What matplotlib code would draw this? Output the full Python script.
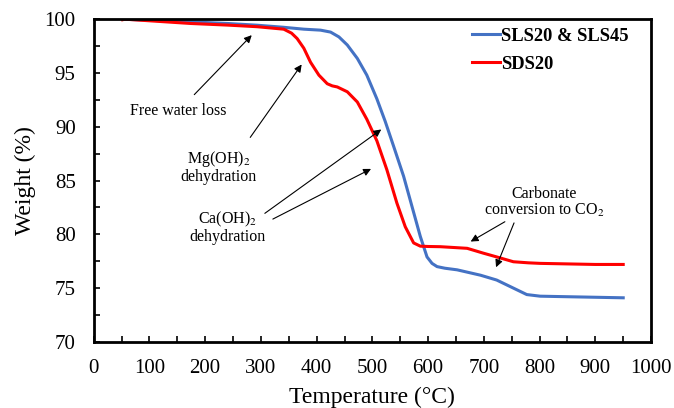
import matplotlib.pyplot as plt
from matplotlib.ticker import MultipleLocator

plt.rcParams['font.family'] = ['Liberation Serif', 'DejaVu Serif']
plt.rcParams['mathtext.fontset'] = 'stix'

# donnees
temp_sls = [52, 100, 174, 240, 293, 340, 377, 407, 425, 440, 455, 473, 490,
            508, 523, 538, 556, 571, 586, 598, 607, 616, 630, 652, 694, 723,
            753, 777, 801, 850, 900, 950]
poids_sls = [100, 99.9, 99.75, 99.6, 99.44, 99.25, 99.07, 98.98, 98.8, 98.35,
             97.6, 96.35, 94.8, 92.6, 90.5, 88.2, 85.4, 82.6, 79.8, 77.9,
             77.3, 77.0, 76.85, 76.7, 76.2, 75.75, 75.0, 74.4, 74.25, 74.2,
             74.15, 74.1]

temp_sds = [52, 56, 100, 174, 240, 293, 341, 355, 365, 377, 389, 404, 419,
            428, 437, 455, 473, 490, 508, 526, 544, 559, 574, 586, 600, 622,
            670, 699, 723, 753, 780, 801, 850, 900, 950]
poids_sds = [99.95, 100, 99.85, 99.6, 99.45, 99.3, 99.07, 98.7, 98.2, 97.3,
             96.0, 94.8, 94.0, 93.8, 93.7, 93.25, 92.3, 90.7, 88.7, 86.0, 82.9,
             80.7, 79.2, 78.9, 78.87, 78.85, 78.7, 78.25, 77.9, 77.45, 77.35,
             77.3, 77.25, 77.2, 77.2]

fig = plt.figure(figsize=(6.74, 4.08), dpi=100)
ax = fig.add_axes([0.139, 0.162, 0.827, 0.791])

ax.plot(temp_sls, poids_sls, color='#4472C4', lw=2.2, label='SLS20 & SLS45',
        solid_joinstyle='round')
ax.plot(temp_sds, poids_sds, color='#FF0000', lw=2.2, label='SDS20',
        solid_joinstyle='round')

ax.set_xlim(0, 1000)
ax.set_ylim(70, 100)
ax.xaxis.set_major_locator(MultipleLocator(100))
ax.xaxis.set_minor_locator(MultipleLocator(50))
ax.yaxis.set_major_locator(MultipleLocator(5))
ax.yaxis.set_minor_locator(MultipleLocator(2.5))
ax.tick_params(which='both', direction='in', length=4, width=1.2,
               labelsize=15, top=False, right=False)
ax.tick_params(axis='x', pad=12)
ax.tick_params(axis='y', pad=13)
for s in ax.spines.values():
    s.set_linewidth(2)

ax.set_xlabel('Temperature (°C)', fontsize=17, labelpad=7)
ax.set_ylabel('Weight (%)', fontsize=17, labelpad=6)

leg = ax.legend(loc='upper right', frameon=False, handlelength=1.5,
                handletextpad=0.1, labelspacing=0.6,
                prop={'weight': 'bold', 'size': 13.3, 'family': 'Liberation Serif'},
                bbox_to_anchor=(0.99, 1.025))

fl = 11.5
arr = dict(arrowstyle='-|>', color='black', lw=0.8, mutation_scale=11)
ax.text(152, 91.5, 'Free water loss', ha='center', va='center', fontsize=fl)
ax.annotate('', xy=(287, 98.7), xytext=(177, 92.8), arrowprops=arr)

ax.text(224, 86.3, 'Mg(OH)$_2$\ndehydration', ha='center', va='center',
        fontsize=fl, linespacing=1.0)
ax.annotate('', xy=(376, 96.0), xytext=(278, 88.8), arrowprops=arr)

ax.text(240, 80.6, 'Ca(OH)$_2$\ndehydration', ha='center', va='center',
        fontsize=fl, linespacing=1.0)
ax.annotate('', xy=(520, 89.9), xytext=(303, 81.8), arrowprops=arr)
ax.annotate('', xy=(502, 86.2), xytext=(317, 81.3), arrowprops=arr)

ax.text(808, 83.0, 'Carbonate\nconversion to CO$_2$', ha='center', va='center',
        fontsize=fl, linespacing=1.0)
ax.annotate('', xy=(672, 79.2), xytext=(742, 81.3), arrowprops=arr)
ax.annotate('', xy=(720, 76.7), xytext=(756, 81.3), arrowprops=arr)

fig.savefig('out.png', dpi=100)
